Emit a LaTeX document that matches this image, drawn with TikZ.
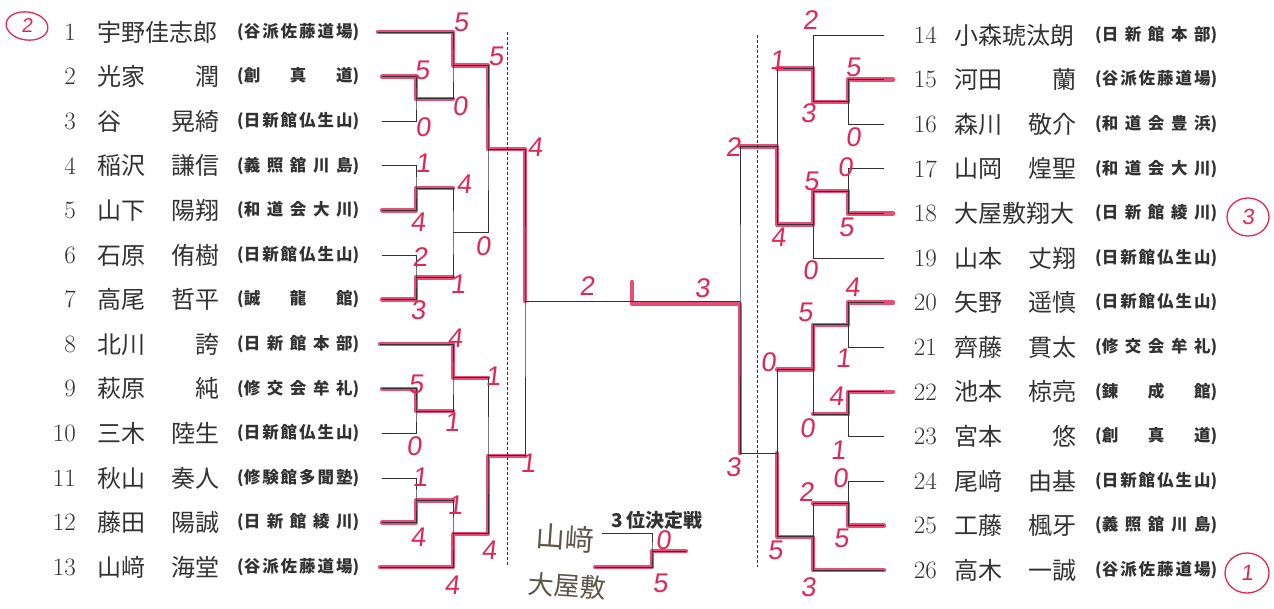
\documentclass[tikz,border=0pt]{standalone}
\usepackage{fontspec}
\newfontfamily\cjk{Noto Sans CJK JP}
\newfontfamily\handf[FakeSlant=0.12]{Liberation Sans}
\usetikzlibrary{calc}
\definecolor{mk}{RGB}{224,40,88}
\definecolor{ink}{RGB}{50,50,50}
\definecolor{pencil}{RGB}{92,86,74}
\def\spr#1{\ifx\relax#1\else\hfill#1\expandafter\spr\fi}
\def\sprA#1{#1\spr}
\newcommand\pnm[2]{\makebox[122pt][s]{\cjk\fontsize{24}{24}\selectfont #1\hfill #2}}
\newcommand\pcl[1]{\makebox[122pt][s]{\cjk\bfseries\fontsize{16.5}{17}\selectfont (\sprA#1\relax)}}
\tikzset{
 num/.style={inner sep=0, text=ink, font=\fontsize{25}{25}\selectfont},
 nm/.style={inner sep=0, text=ink},
 br/.style={draw=ink, line width=0.85pt},
 mkl/.style={draw=mk, line width=4.4pt, opacity=0.82, line cap=round, line join=round},
 sc/.style={inner sep=0, text=mk, font=\handf\fontsize{27}{27}\selectfont},
 dsh/.style={draw=ink, line width=0.6pt, dash pattern=on 2.5pt off 2.5pt},
 rank/.style={draw=mk, line width=1.3pt},
 hw/.style={inner sep=0, text=pencil},
}
\begin{document}
\begin{tikzpicture}[x=1pt,y=-1pt]
\fill[white] (0,0) rectangle (1274,608);
\useasboundingbox (0,0) rectangle (1274,608);
% ---------- players ----------
\newcommand\Lp[6]{%
 \node[num, anchor=east] (#1n) at (76,#6) {#2};
 \node[nm, anchor=west] (#1) at (97,#6) {\pnm{#3}{#4}};
 \node[nm, anchor=west] (#1c) at (237,#6) {\pcl{#5}};}
\newcommand\Rp[6]{%
 \node[num, anchor=east] (#1n) at (937,#6) {#2};
 \node[nm, anchor=west] (#1) at (954,#6) {\pnm{#3}{#4}};
 \node[nm, anchor=west] (#1c) at (1095,#6) {\pcl{#5}};}
\Lp{p1}{1}{宇野佳志郎}{}{谷派佐藤道場}{32}
\Lp{p2}{2}{光家}{潤}{創真道}{76.6}
\Lp{p3}{3}{谷}{晃綺}{日新館仏生山}{121.2}
\Lp{p4}{4}{稲沢}{謙信}{義照舘川島}{165.8}
\Lp{p5}{5}{山下}{陽翔}{和道会大川}{210.4}
\Lp{p6}{6}{石原}{侑樹}{日新館仏生山}{255}
\Lp{p7}{7}{高尾}{哲平}{誠龍館}{299.6}
\Lp{p8}{8}{北川}{誇}{日新館本部}{344.2}
\Lp{p9}{9}{萩原}{純}{修交会牟礼}{388.8}
\Lp{p10}{10}{三木}{陸生}{日新館仏生山}{433.4}
\Lp{p11}{11}{秋山}{奏人}{修験館多聞塾}{478}
\Lp{p12}{12}{藤田}{陽誠}{日新館綾川}{522.6}
\Lp{p13}{13}{山﨑}{海堂}{谷派佐藤道場}{567.2}
\Rp{p14}{14}{小森琥汰朗}{}{日新館本部}{35}
\Rp{p15}{15}{河田}{蘭}{谷派佐藤道場}{79.6}
\Rp{p16}{16}{森川}{敬介}{和道会豊浜}{124.2}
\Rp{p17}{17}{山岡}{煌聖}{和道会大川}{168.8}
\Rp{p18}{18}{大屋敷翔大}{}{日新館綾川}{213.4}
\Rp{p19}{19}{山本}{丈翔}{日新館仏生山}{258}
\Rp{p20}{20}{矢野}{遥慎}{日新館仏生山}{302.6}
\Rp{p21}{21}{齊藤}{貫太}{修交会牟礼}{347.2}
\Rp{p22}{22}{池本}{椋亮}{錬成館}{391.8}
\Rp{p23}{23}{宮本}{悠}{創真道}{436.4}
\Rp{p24}{24}{尾﨑}{由基}{日新館仏生山}{481}
\Rp{p25}{25}{工藤}{楓牙}{義照舘川島}{525.6}
\Rp{p26}{26}{高木}{一誠}{谷派佐藤道場}{570.2}
% ---------- bracket coordinates ----------
\coordinate (l1) at (378,32);   \coordinate (l2) at (382,76.6);
\coordinate (l3) at (382,121.2);\coordinate (l4) at (382,165.8);
\coordinate (l5) at (382,210.4);\coordinate (l6) at (382,255);
\coordinate (l7) at (382,299.6);\coordinate (l8) at (380,344.2);
\coordinate (l9) at (382,388.8);\coordinate (l10) at (382,433.4);
\coordinate (l11) at (382,478); \coordinate (l12) at (382,522.6);
\coordinate (l13) at (380,567.2);
\coordinate (A23) at (416,98.9);  \coordinate (A45) at (416,188.1);
\coordinate (A67) at (416,277.3); \coordinate (A910) at (416,411.1);
\coordinate (A1112) at (416,500.3);
\coordinate (B1) at (453,65.5);  \coordinate (B2) at (453,232.7);
\coordinate (B3) at (453,377.7); \coordinate (B4) at (453,533.8);
\coordinate (C1) at (488,149.1); \coordinate (C2) at (488,455.7);
\coordinate (D1) at (525,301);
\foreach \i/\y in {14/35,15/79.6,16/124.2,17/168.8,18/213.4,19/258,20/302.6,21/347.2,22/391.8,23/436.4,24/481,25/525.6,26/570.2}
  \coordinate (r\i) at (884,\y);
\coordinate (P1516) at (848,101.9); \coordinate (P1718) at (848,191.1);
\coordinate (P2021) at (848,324.9); \coordinate (P2223) at (848,414.1);
\coordinate (P2425) at (848,503.3);
\coordinate (Q1) at (813,68.5);  \coordinate (Q2) at (813,224.6);
\coordinate (Q3) at (813,369.5); \coordinate (Q4) at (813,536.8);
\coordinate (K1) at (777,146.5); \coordinate (K2) at (777,453.1);
\coordinate (E1) at (740,301);
\coordinate (T) at (632,301); \coordinate (T2) at (632,282);
% third place
\coordinate (t1) at (602,533); \coordinate (t2) at (595,567);
\coordinate (T3) at (652,551); \coordinate (T3o) at (686,551);
% ---------- red marker paths ----------
\draw[mkl] (l1) -| (B1) -| (C1) -| (D1);
\draw[mkl] (l2) -| (A23) -- (A23 -| B1);
\draw[mkl] (l5) -| (A45) -- (A45 -| B2);
\draw[mkl] (l7) -| (A67) -- (A67 -| B2);
\draw[mkl] (l8) -| (B3) -- (B3 -| C2);
\draw[mkl] (l9) -| (A910) -- (A910 -| B3);
\draw[mkl] (l12) -| (A1112) -- (A1112 -| B4);
\draw[mkl] (l13) -| (B4) -| (C2) -- (C2 -| D1);
\draw[mkl] ($(r15)+(9,0)$) -| (P1516) -| (Q1) -- (Q1 -| K1);
\draw[mkl] ($(r18)+(9,0)$) -| (P1718) -| (Q2) -| (K1) -- (K1 -| E1);
\draw[mkl] ($(r20)+(9,0)$) -| (P2021) -| (Q3) -- (Q3 -| K2);
\draw[mkl] ($(r22)+(9,0)$) -| (P2223) -- (P2223 -| Q3);
\draw[mkl] (r25) -| (P2425) -- (P2425 -| Q4);
\draw[mkl] (r26) -| (Q4) -| (K2);
\draw[mkl] (K2 -| E1) -- ($(E1)+(0,3)$) -- ($(T)+(0,3)$) -- (T2);
\draw[mkl] (t2) -| (T3) -- (T3o);
% ---------- black bracket ----------
\draw[br] (l2) -| (A23) |- (l3);
\draw[br] (l4) -| (A45) |- (l5);
\draw[br] (l6) -| (A67) |- (l7);
\draw[br] (l9) -| (A910) |- (l10);
\draw[br] (l11) -| (A1112) |- (l12);
\draw[br] (l1) -| (B1) |- (A23);
\draw[br] (A45) -| (B2) |- (A67);
\draw[br] (l8) -| (B3) |- (A910);
\draw[br] (A1112) -| (B4) |- (l13);
\draw[br] (B1) -| (C1) |- (B2);
\draw[br] (B3) -| (C2) |- (B4);
\draw[br] (C1) -| (D1) |- (C2);
\draw[br] (r15) -| (P1516) |- (r16);
\draw[br] (r17) -| (P1718) |- (r18);
\draw[br] (r20) -| (P2021) |- (r21);
\draw[br] (r22) -| (P2223) |- (r23);
\draw[br] (r24) -| (P2425) |- (r25);
\draw[br] (r14) -| (Q1) |- (P1516);
\draw[br] (P1718) -| (Q2) |- (r19);
\draw[br] (P2021) -| (Q3) |- (P2223);
\draw[br] (P2425) -| (Q4) |- (r26);
\draw[br] (Q1) -| (K1) |- (Q2);
\draw[br] (Q3) -| (K2) |- (Q4);
\draw[br] (K1) -| (E1) |- (K2);
\draw[br] (D1) -- (E1);
\draw[br] (t1) -| (T3) |- (t2);
\draw[br] (T3) -- (T3o);
% dashed guides
\coordinate (dl1) at (507,32); \coordinate (dl2) at (507,567);
\coordinate (dr1) at (757,35); \coordinate (dr2) at (757,567);
\draw[dsh] (dl1) -- (dl2);
\draw[dsh] (dr1) -- (dr2);
% ---------- scores ----------
\node[sc] (s1) at (461,22) {5};
\node[sc] (s2) at (460,106) {0};
\node[sc] (s3) at (422,70) {5};
\node[sc] (s4) at (423,127) {0};
\node[sc] (s5) at (496,56) {5};
\node[sc] (s6) at (483,246) {0};
\node[sc] (s7) at (535,147) {4};
\node[sc] (s8) at (423,163) {1};
\node[sc] (s9) at (418,222) {4};
\node[sc] (s10) at (464,184) {4};
\node[sc] (s11) at (420,257) {2};
\node[sc] (s12) at (418,310) {3};
\node[sc] (s13) at (458,284) {1};
\node[sc] (s14) at (455,338) {4};
\node[sc] (s15) at (416,384) {5};
\node[sc] (s16) at (414,446) {0};
\node[sc] (s17) at (452,422) {1};
\node[sc] (s18) at (493,376) {1};
\node[sc] (s19) at (420,477) {1};
\node[sc] (s20) at (418,537) {4};
\node[sc] (s21) at (455,505) {1};
\node[sc] (s22) at (452,585) {4};
\node[sc] (s23) at (489,550) {4};
\node[sc] (s24) at (528,463) {1};
\node[sc] (s25) at (587,286) {2};
\node[sc] (s26) at (702,288) {3};
\node[sc] (s27) at (810,20) {2};
\node[sc] (s28) at (808,113) {3};
\node[sc] (s29) at (853,67) {5};
\node[sc] (s30) at (853,137) {0};
\node[sc] (s31) at (777,60) {1};
\node[sc] (s32) at (733,147) {2};
\node[sc] (s33) at (845,167) {0};
\node[sc] (s34) at (846,227) {5};
\node[sc] (s35) at (811,181) {5};
\node[sc] (s36) at (778,237) {4};
\node[sc] (s37) at (810,270) {0};
\node[sc] (s38) at (852,287) {4};
\node[sc] (s39) at (805,312) {5};
\node[sc] (s40) at (843,358) {1};
\node[sc] (s41) at (768,362) {0};
\node[sc] (s42) at (836,396) {4};
\node[sc] (s43) at (807,428) {0};
\node[sc] (s44) at (838,450) {1};
\node[sc] (s45) at (733,467) {3};
\node[sc] (s46) at (840,478) {0};
\node[sc] (s47) at (806,492) {2};
\node[sc] (s48) at (841,538) {5};
\node[sc] (s49) at (775,550) {5};
\node[sc] (s50) at (808,587) {3};
\node[sc] (s51) at (663,540) {0};
\node[sc] (s52) at (660,583) {5};
% ---------- third place ----------
\node[inner sep=0, text=ink, font=\cjk\bfseries\fontsize{19}{19}\selectfont] (tl) at (657,520) {3\,位決定戦};
\node[hw, font=\cjk\fontsize{29}{29}\selectfont, rotate=-4] (hw1) at (565,538) {山﨑};
\node[hw, font=\cjk\fontsize{26}{26}\selectfont, rotate=-4] (hw2) at (567,586) {大屋敷};
% ---------- ranks ----------
\draw[rank, rotate around={-8:(27,26)}] (27,26) ellipse (21 and 14);
\node[sc, font=\handf\fontsize{20}{20}\selectfont] (rk2) at (27,26) {2};
\draw[rank] (1248,217) ellipse (21 and 19);
\node[sc, font=\handf\fontsize{22}{22}\selectfont] (rk3) at (1248,217) {3};
\draw[rank] (1247,573) ellipse (22 and 20);
\node[sc, font=\handf\fontsize{22}{22}\selectfont] (rk1) at (1247,573) {1};
\end{tikzpicture}
\end{document}
